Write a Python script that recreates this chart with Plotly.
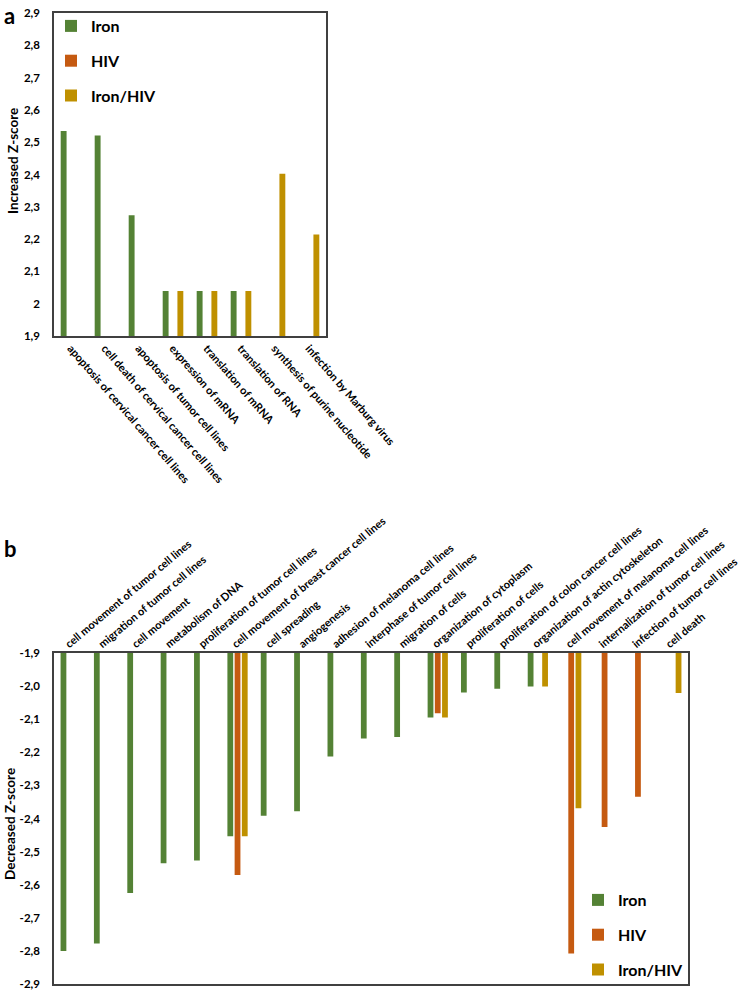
import plotly.graph_objects as go

# ---------------- data ----------------
series_names = ["Iron", "HIV", "Iron/HIV"]
series_colors = ["#548235", "#C55A11", "#BF9000"]

categories_a = [
    "apoptosis of cervical cancer cell lines",
    "cell death of cervical cancer cell lines",
    "apoptosis of tumor cell lines",
    "expression of mRNA",
    "translation of mRNA",
    "translation of RNA",
    "synthesis of purine nucleotide",
    "infection by Marburg virus",
]
iron_a = [2.535, 2.521, 2.274, 2.039, 2.039, 2.039, None, None]
hiv_a = [None, None, None, None, None, None, None, None]
ironhiv_a = [None, None, None, 2.039, 2.039, 2.039, 2.402, 2.214]

categories_b = [
    "cell movement of tumor cell lines",
    "migration of tumor cell lines",
    "cell movement",
    "metabolism of DNA",
    "proliferation of tumor cell lines",
    "cell movement of breast cancer cell lines",
    "cell spreading",
    "angiogenesis",
    "adhesion of melanoma cell lines",
    "interphase of tumor cell lines",
    "migration of cells",
    "organization of cytoplasm",
    "proliferation of cells",
    "proliferation of colon cancer cell lines",
    "organization of actin cytoskeleton",
    "cell movement of melanoma cell lines",
    "internalization of tumor cell lines",
    "infection of tumor cell lines",
    "cell death",
]
iron_b = [-2.800, -2.778, -2.625, -2.535, -2.527, -2.454, -2.392, -2.378, -2.213,
          -2.158, -2.154, -2.095, -2.019, -2.008, -2.001, None, None, None, None]
hiv_b = [None, None, None, None, None, -2.571, None, None, None,
         None, None, -2.082, None, None, None, -2.808, -2.426, -2.334, None]
ironhiv_b = [None, None, None, None, None, -2.454, None, None, None,
             None, None, -2.095, None, None, -2.001, -2.369, None, None, -2.021]

yticks_a = [1.9, 2.0, 2.1, 2.2, 2.3, 2.4, 2.5, 2.6, 2.7, 2.8, 2.9]
yticktext_a = ["1,9", "2", "2,1", "2,2", "2,3", "2,4", "2,5", "2,6", "2,7", "2,8", "2,9"]
yticks_b = [-1.9, -2.0, -2.1, -2.2, -2.3, -2.4, -2.5, -2.6, -2.7, -2.8, -2.9]
yticktext_b = ["-1,9", "-2,0", "-2,1", "-2,2", "-2,3", "-2,4", "-2,5", "-2,6", "-2,7", "-2,8", "-2,9"]

# ---------------- figure ----------------
W, H = 739, 992
FONT = "Lato"

fig = go.Figure()

for name, color, vals in zip(series_names, series_colors, [iron_a, hiv_a, ironhiv_a]):
    fig.add_trace(go.Bar(x=categories_a, y=vals, name=name, marker_color=color,
                         marker_line_width=0, xaxis="x", yaxis="y",
                         legend="legend", legendgroup="a" + name))
for name, color, vals in zip(series_names, series_colors, [iron_b, hiv_b, ironhiv_b]):
    fig.add_trace(go.Bar(x=categories_b, y=vals, name=name, marker_color=color,
                         marker_line_width=0, xaxis="x2", yaxis="y2",
                         legend="legend2", legendgroup="b" + name))

def px_x(p):
    return p / W

def px_y(p):
    return 1 - p / H

axis_line = dict(showline=True, linecolor="#404040", linewidth=1.5, mirror=True,
                 showgrid=False, zeroline=False, automargin=False)
tickfont = dict(family=FONT, size=11.5, color="#000000", weight="bold")
catfont = dict(family=FONT, size=11, color="#000000", weight="bold")

fig.update_layout(
    width=W, height=H,
    margin=dict(l=0, r=0, t=0, b=0, autoexpand=False),
    paper_bgcolor="white", plot_bgcolor="white",
    barmode="group", bargap=0.35, bargroupgap=0.2,
    font=dict(family=FONT, color="#000000"),
    xaxis=dict(domain=[px_x(54), px_x(326)], anchor="y", type="category",
               tickangle=49, tickfont=catfont, ticks="", **axis_line),
    yaxis=dict(domain=[px_y(336), px_y(13)], anchor="x", range=[1.9, 2.9],
               tickvals=yticks_a, ticktext=yticktext_a, tickfont=tickfont,
               ticks="", ticklabelstandoff=10, **axis_line),
    xaxis2=dict(domain=[px_x(54), px_x(688)], anchor="y2", type="category", side="top",
                tickangle=-40, tickfont=catfont, ticks="", ticklabelshift=-5,
                ticklabelstandoff=-3, **axis_line),
    yaxis2=dict(domain=[px_y(984), px_y(653)], anchor="x2", range=[-2.9, -1.9],
                tickvals=yticks_b, ticktext=yticktext_b, tickfont=tickfont,
                ticks="", ticklabelstandoff=10, **axis_line),
    legend=dict(x=px_x(51), y=px_y(9), xanchor="left", yanchor="top",
                font=dict(family=FONT, size=16, weight="bold"),
                bgcolor="rgba(0,0,0,0)", tracegroupgap=11),
    legend2=dict(x=px_x(578), y=px_y(883), xanchor="left", yanchor="top",
                 font=dict(family=FONT, size=16, weight="bold"),
                 bgcolor="rgba(0,0,0,0)", tracegroupgap=11),
    annotations=[
        dict(text="a", x=px_x(2), y=1.0, xref="paper", yref="paper",
             xanchor="left", yanchor="top", showarrow=False,
             font=dict(family=FONT, size=22, weight="bold")),
        dict(text="b", x=px_x(2), y=px_y(548), xref="paper", yref="paper",
             xanchor="left", yanchor="middle", showarrow=False,
             font=dict(family=FONT, size=22, weight="bold")),
        dict(text="Increased Z-score", x=px_x(13), y=px_y(161), xref="paper", yref="paper",
             xanchor="center", yanchor="middle", showarrow=False, textangle=-90,
             font=dict(family=FONT, size=13.5, weight="bold")),
        dict(text="Decreased Z-score", x=px_x(10), y=px_y(824), xref="paper", yref="paper",
             xanchor="center", yanchor="middle", showarrow=False, textangle=-90,
             font=dict(family=FONT, size=13.5, weight="bold")),
    ],
)

fig.write_html("out.html", config={"displayModeBar": False},
               post_script="document.body.style.margin='0';document.body.style.overflow='hidden';")
